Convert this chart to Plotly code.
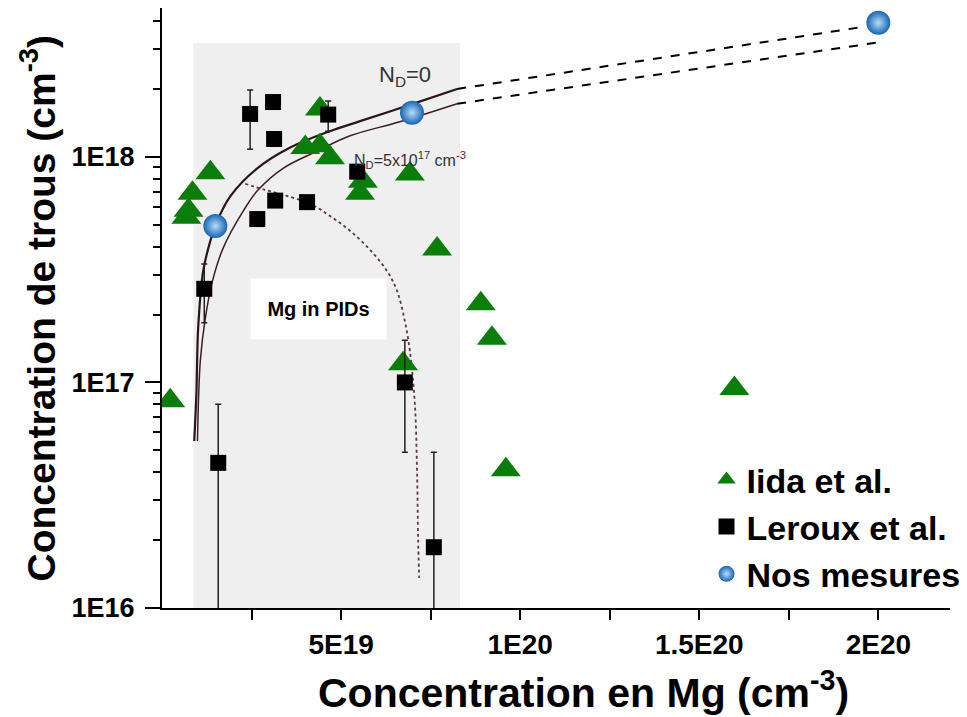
"""
Hole concentration vs Mg concentration (GaN:Mg), log-scale y.
"""
import numpy as np
import plotly.graph_objects as go

# --- data ---
iida_x = [0.23e19, 0.68e19, 0.74e19, 0.85e19, 1.35e19, 4.0e19, 4.41e19, 4.41e19, 4.69e19,
          5.61e19, 5.53e19, 6.92e19, 7.68e19, 8.90e19, 9.21e19, 6.73e19, 9.60e19, 15.98e19]
iida_y = [8.3e16, 5.4e17, 5.8e17, 6.9e17, 8.5e17, 1.10e18, 1.63e18, 1.12e18, 0.99e18,
          7.8e17, 6.9e17, 8.4e17, 3.9e17, 2.23e17, 1.57e17, 1.21e17, 4.1e16, 9.4e16]

leroux_x = [2.46e19, 3.10e19, 3.13e19, 4.64e19, 5.45e19, 3.16e19, 4.05e19, 2.66e19,
            1.18e19, 1.57e19, 6.78e19, 7.59e19]
leroux_y = [1.55e18, 1.75e18, 1.20e18, 1.54e18, 8.6e17, 6.4e17, 6.3e17, 5.3e17,
            2.6e17, 4.4e16, 1.0e17, 1.86e16]
leroux_hi = [1.98e18, 1.75e18, 1.20e18, 1.77e18, 8.6e17, 6.4e17, 6.3e17, 5.3e17,
             3.35e17, 8.0e16, 1.54e17, 4.9e16]
leroux_lo = [1.08e18, 1.75e18, 1.20e18, 1.30e18, 8.6e17, 6.4e17, 6.3e17, 5.3e17,
             1.84e17, 1e15, 4.9e16, 1e15]

nos_x = [1.49e19, 6.98e19, 2.0e20]
nos_y = [4.94e17, 1.57e18, 3.93e18]

# model curves
nd0_x = [0.90e19, 0.96e19, 1.01e19, 1.15e19, 1.35e19, 1.52e19, 1.91e19, 2.66e19,
         3.58e19, 4.69e19, 5.53e19, 6.92e19, 8.24e19]
nd0_y = [5.5e16, 8.9e16, 1.75e17, 3.12e17, 4.24e17, 5.1e17, 6.7e17, 8.9e17,
         1.10e18, 1.30e18, 1.44e18, 1.70e18, 2.0e18]
nd5_x = [0.99e19, 1.07e19, 1.21e19, 1.41e19, 1.71e19, 2.27e19, 2.66e19, 3.38e19,
         4.33e19, 5.25e19, 6.64e19, 8.24e19]
nd5_y = [5.5e16, 1.25e17, 1.93e17, 2.82e17, 3.95e17, 5.76e17, 7.07e17, 8.9e17,
         1.06e18, 1.24e18, 1.43e18, 1.72e18]
pid_curve_x = [2.32e19, 2.88e19, 3.58e19, 4.14e19, 4.69e19, 5.25e19, 5.81e19, 6.28e19,
               6.56e19, 6.78e19, 6.92e19, 7.06e19, 7.12e19, 7.15e19, 7.18e19]
pid_curve_y = [7.6e17, 7.14e17, 6.65e17, 6.19e17, 5.47e17, 4.70e17, 3.87e17, 3.12e17,
               2.55e17, 1.87e17, 1.38e17, 8.0e16, 4.06e16, 2.04e16, 1.36e16]
ext0_x = [8.24e19, 19.63e19]
ext0_y = [2.0e18, 3.78e18]
ext5_x = [8.24e19, 20.08e19]
ext5_y = [1.72e18, 3.23e18]

# shaded "Mg in PIDs" region
pid_x = [0.875e19, 8.32e19]
pid_y = [1e16, 3.2e18]

x_ticks = [2.5e19, 5e19, 7.5e19, 1e20, 1.25e20, 1.5e20, 1.75e20, 2e20]
x_labels = ["", "5E19", "", "1E20", "", "1.5E20", "", "2E20"]
y_ticks = [1e16, 1e17, 1e18]
y_labels = ["1E16", "1E17", "1E18"]
y_minor = [m * 10.0 ** d for d in (16, 17, 18) for m in range(2, 10) if m * 10.0 ** d < 4.6e18]

FONT = "Liberation Sans, Arial, sans-serif"
NARROW = "Liberation Sans Narrow, Arial Narrow, Liberation Sans, sans-serif"

fig = go.Figure()

# Shaded region
fig.add_trace(go.Scatter(
    x=[pid_x[0], pid_x[1], pid_x[1], pid_x[0], pid_x[0]],
    y=[pid_y[0], pid_y[0], pid_y[1], pid_y[1], pid_y[0]],
    mode="lines", fill="toself", fillcolor="#efefef",
    line=dict(width=0), showlegend=False, hoverinfo="skip"
))

# Model curves
fig.add_trace(go.Scatter(x=nd0_x, y=nd0_y, mode="lines", line=dict(color="#2a1616", width=2.2),
                         line_shape="spline", showlegend=False))
fig.add_trace(go.Scatter(x=nd5_x, y=nd5_y, mode="lines", line=dict(color="#3a1e22", width=1.5),
                         line_shape="spline", showlegend=False))
fig.add_trace(go.Scatter(x=pid_curve_x, y=pid_curve_y, mode="lines",
                         line=dict(color="#5a3a40", width=1.8, dash="dot"),
                         line_shape="spline", showlegend=False))
fig.add_trace(go.Scatter(x=ext0_x, y=ext0_y, mode="lines",
                         line=dict(color="black", width=2, dash="dash"), showlegend=False))
fig.add_trace(go.Scatter(x=ext5_x, y=ext5_y, mode="lines",
                         line=dict(color="black", width=2, dash="dash"), showlegend=False))

# Iida et al.
fig.add_trace(go.Scatter(
    x=iida_x, y=iida_y, mode="markers", name="Iida et al.", legendgroup="a",
    marker=dict(symbol="triangle-up", size=26, color="#0a7d0a")
))

# Leroux et al.
ly = np.array(leroux_y)
fig.add_trace(go.Scatter(
    x=leroux_x, y=leroux_y, mode="markers", name="Leroux et al.", legendgroup="b",
    marker=dict(symbol="square", size=16, color="black"),
    error_y=dict(type="data", symmetric=False,
                 array=np.array(leroux_hi) - ly, arrayminus=ly - np.array(leroux_lo),
                 color="#222", thickness=1.5, width=3)
))

# Nos mesures
fig.add_trace(go.Scatter(
    x=nos_x, y=nos_y, mode="markers", name="Nos mesures", legendgroup="c",
    marker=dict(symbol="circle", size=24, color="#1565b0",
                gradient=dict(type="radial", color="#b8dcfb"),
                line=dict(width=0))
))

# the page body adds an 8px offset, so the figure is 8px smaller than the window
fig.update_layout(
    width=959, height=709,
    margin=dict(l=154, r=17, t=0, b=109),
    paper_bgcolor="white", plot_bgcolor="white",
    font=dict(family=FONT, color="black"),
    legend=dict(x=0.691, y=0.262, xanchor="left", yanchor="top",
                traceorder="grouped", tracegroupgap=0,
                font=dict(size=34, family=FONT, weight="bold"),
                bgcolor="rgba(0,0,0,0)"),
    xaxis=dict(range=[0, 2.2e20], tickmode="array", tickvals=x_ticks, ticktext=x_labels,
               showline=True, linecolor="black", linewidth=2, ticks="outside",
               ticklen=10, tickwidth=1.5, tickcolor="black", showgrid=False, zeroline=False,
               tickfont=dict(size=28, family=NARROW, weight="bold")),
    yaxis=dict(type="log", range=[16, 18.66], tickmode="array", tickvals=y_ticks,
               ticktext=y_labels, showline=True, linecolor="black", linewidth=2,
               ticks="outside", ticklen=15, tickwidth=1.5, tickcolor="black",
               showgrid=False, zeroline=False, ticklabelstandoff=5,
               tickfont=dict(size=27, family=FONT, weight="bold"),
               minor=dict(tickmode="array", tickvals=y_minor, ticks="outside",
                          ticklen=7, tickwidth=1.5, tickcolor="black", showgrid=False)),
    annotations=[
        dict(text="Concentration en Mg (cm<sup>-3</sup>)", xref="paper", yref="paper",
             x=0.535, y=-0.137, showarrow=False, xanchor="center", yanchor="middle",
             font=dict(size=41, family=FONT, weight="bold")),
        dict(text="Concentration de trous (cm<sup>-3</sup>)", xref="paper", yref="paper",
             x=-0.158, y=0.5, showarrow=False, textangle=-90, xanchor="center",
             yanchor="middle", font=dict(size=39, family=FONT, weight="bold")),
        dict(text="Mg in PIDs", x=4.36e19, y=17.326, xref="x", yref="y", showarrow=False,
             bgcolor="white", width=133, height=58,
             font=dict(size=20, family=FONT, weight="bold")),
        dict(text="N<sub>D</sub>=0", x=6.78e19, y=18.359, xref="x", yref="y", showarrow=False,
             font=dict(size=22, family=NARROW, color="#333")),
        dict(text="N<sub>D</sub>=5x10<sup>17</sup> cm<sup>-3</sup>", x=6.92e19, y=17.985,
             xref="x", yref="y", showarrow=False,
             font=dict(size=16, family=NARROW, color="#333")),
    ],
)

fig.write_html("out.html")
